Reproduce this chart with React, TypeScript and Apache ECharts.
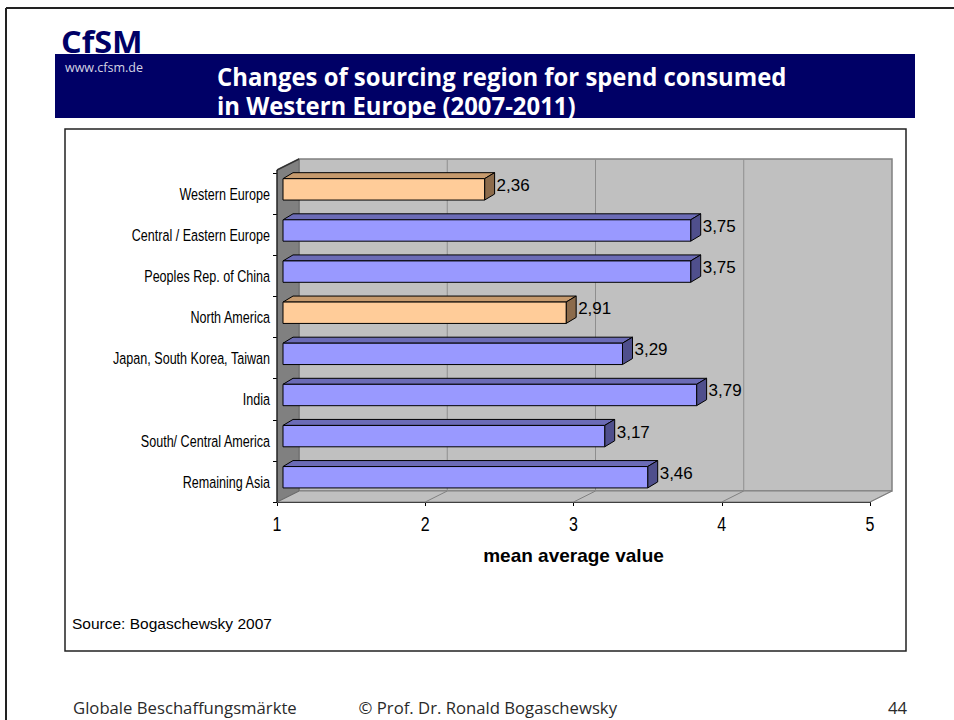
import React, { useEffect, useRef } from "react";
import * as echarts from "echarts";

const regions = [
  "Western Europe",
  "Central / Eastern Europe",
  "Peoples Rep. of China",
  "North America",
  "Japan, South Korea, Taiwan",
  "India",
  "South/ Central America",
  "Remaining Asia",
];
const meanValues = [2.36, 3.75, 3.75, 2.91, 3.29, 3.79, 3.17, 3.46];
const orangeRegions = ["Western Europe", "North America"];
const xTicks = [1, 2, 3, 4, 5];
const xMin = 1;
const xMax = 5;

const ARIAL = "'Liberation Sans', Arial, sans-serif";
const SLIDE = "'Open Sans', 'Noto Sans', sans-serif";

// 3D depth of the plot box
const DX = 22;
const DY = -11;
const EXT = 3;

export default function App() {
  const ref = useRef<HTMLDivElement>(null);
  useEffect(() => {
    if (!ref.current) return;
    const chart = echarts.init(ref.current, undefined, { renderer: "svg" });
    const option: any = {
      animation: false,
      backgroundColor: "#ffffff",
      grid: { left: 277, top: 173, width: 593, height: 329, containLabel: false },
      xAxis: {
        type: "value",
        min: xMin,
        max: xMax,
        interval: 1,
        axisLine: { show: true, lineStyle: { color: "#000", width: 1 } },
        axisTick: { show: true, length: 4, lineStyle: { color: "#000" } },
        splitLine: { show: false },
        axisLabel: { show: false },
        name: "mean average value",
        nameLocation: "middle",
        nameGap: 44,
        nameTextStyle: { color: "#000", fontFamily: ARIAL, fontWeight: "bold", fontSize: 19 },
      },
      yAxis: {
        type: "category",
        inverse: true,
        data: regions,
        axisLine: { show: true, lineStyle: { color: "#000", width: 1 } },
        axisTick: { show: true, length: 4, lineStyle: { color: "#000" } },
        axisLabel: { show: false },
        splitLine: { show: false },
      },
      graphic: [
        { type: "line", shape: { x1: 6, y1: 8, x2: 954, y2: 8 }, style: { stroke: "#222", lineWidth: 2 } },
        { type: "line", shape: { x1: 6, y1: 8, x2: 6, y2: 720 }, style: { stroke: "#222", lineWidth: 2 } },
        {
          type: "text", x: 61, y: 41, scaleX: 1.08,
          style: { text: "CfSM", fill: "#000066", font: `bold 30px ${SLIDE}`, textVerticalAlign: "middle" },
        },
        { type: "rect", shape: { x: 55, y: 54, width: 860, height: 64 }, style: { fill: "#000066" } },
        {
          type: "text", x: 65, y: 67,
          style: { text: "www.cfsm.de", fill: "#d4d4e4", font: `12.5px ${SLIDE}`, textVerticalAlign: "middle" },
        },
        {
          type: "text", x: 217, y: 76, scaleX: 0.955,
          style: { text: "Changes of sourcing region for spend consumed", fill: "#fff", font: `bold 25px ${SLIDE}`, textVerticalAlign: "middle" },
        },
        {
          type: "text", x: 217, y: 105, scaleX: 0.955,
          style: { text: "in Western Europe (2007-2011)", fill: "#fff", font: `bold 25px ${SLIDE}`, textVerticalAlign: "middle" },
        },
        {
          type: "rect", z: -10, shape: { x: 65, y: 129, width: 841, height: 522 },
          style: { fill: "#fff", stroke: "#222", lineWidth: 1.5 },
        },
        {
          type: "text", x: 72, y: 623,
          style: { text: "Source: Bogaschewsky 2007", fill: "#000", font: `15.5px ${ARIAL}`, textVerticalAlign: "middle" },
        },
        {
          type: "text", x: 73, y: 707,
          style: { text: "Globale Beschaffungsmärkte", fill: "#2a2a2a", font: `16.7px ${SLIDE}`, textVerticalAlign: "middle" },
        },
        {
          type: "text", x: 617, y: 707,
          style: { text: "© Prof. Dr. Ronald Bogaschewsky", fill: "#2a2a2a", font: `16.7px ${SLIDE}`, textVerticalAlign: "middle", textAlign: "right" },
        },
        {
          type: "text", x: 907, y: 707,
          style: { text: "44", fill: "#2a2a2a", font: `16.7px ${SLIDE}`, textVerticalAlign: "middle", textAlign: "right" },
        },
      ],
      series: [
        {
          type: "custom",
          name: "walls",
          z: 1,
          silent: true,
          data: xTicks.map((t) => [t, 0]),
          encode: { x: 0, y: 1 },
          renderItem: (params: any, api: any) => {
            const cs = params.coordSys;
            const gx = cs.x, gy = cs.y, gw = cs.width, gh = cs.height;
            const t = api.value(0);
            const px = api.coord([t, 0])[0];
            const children: any[] = [];
            if (params.dataIndex === 0) {
              children.push({
                type: "rect",
                shape: { x: gx + DX, y: gy - EXT + DY, width: gw, height: gh + EXT },
                style: { fill: "#c0c0c0", stroke: "#808080", lineWidth: 1.5 },
              });
              children.push({
                type: "polygon",
                shape: { points: [[gx, gy + gh], [gx + DX, gy + gh + DY], [gx + gw + DX, gy + gh + DY], [gx + gw, gy + gh]] },
                style: { fill: "#c0c0c0", stroke: "#808080", lineWidth: 1 },
              });
              children.push({
                type: "polygon",
                shape: { points: [[gx, gy - EXT], [gx + DX, gy - EXT + DY], [gx + DX, gy + gh + DY], [gx, gy + gh]] },
                style: { fill: "#808080", stroke: "#6a6a6a", lineWidth: 1 },
              });
              children.push({
                type: "line",
                shape: { x1: gx, y1: gy - EXT, x2: gx + DX, y2: gy - EXT + DY },
                style: { stroke: "#333", lineWidth: 1.5 },
              });
              children.push({
                type: "line",
                shape: { x1: gx, y1: gy - EXT, x2: gx, y2: gy + gh },
                style: { stroke: "#000", lineWidth: 1 },
              });
            }
            if (t > xMin && t < xMax) {
              children.push({
                type: "line",
                shape: { x1: px + DX, y1: gy - EXT + DY, x2: px + DX, y2: gy + gh + DY },
                style: { stroke: "#8e8e8e", lineWidth: 1 },
              });
            }
            if (t > xMin) {
              children.push({
                type: "line",
                shape: { x1: px, y1: gy + gh, x2: px + DX, y2: gy + gh + DY },
                style: { stroke: "#808080", lineWidth: 1 },
              });
            }
            // x tick label (narrow)
            children.push({
              type: "text",
              x: px,
              y: gy + gh + 22,
              scaleX: 0.8,
              style: { text: String(t), fill: "#000", font: `20px ${ARIAL}`, textAlign: "center", textVerticalAlign: "middle" },
            });
            return { type: "group", children };
          },
        },
        {
          type: "custom",
          name: "mean average value",
          z: 3,
          data: meanValues.map((v, i) => [v, i]),
          encode: { x: 0, y: 1 },
          renderItem: (params: any, api: any) => {
            const v = api.value(0);
            const idx = api.value(1);
            const start = api.coord([xMin, idx]);
            const end = api.coord([v, idx]);
            const band = api.size([0, 1])[1];
            const cy = start[1];
            const x0 = start[0] + 6;
            const x1 = end[0] + 6;
            const y0 = cy - 0.362 * band;
            const y1 = cy + 0.158 * band;
            const ddx = 10, ddy = -6;
            const orange = orangeRegions.includes(regions[idx]);
            const front = orange ? "#ffcc99" : "#9999ff";
            const top = orange ? "#c69a6d" : "#6b6bb6";
            const side = orange ? "#8c6b4b" : "#4f4f8c";
            const lbl = v.toFixed(2).replace(".", ",");
            return {
              type: "group",
              children: [
                {
                  type: "polygon",
                  shape: { points: [[x0, y0], [x0 + ddx, y0 + ddy], [x1 + ddx, y0 + ddy], [x1, y0]] },
                  style: { fill: top, stroke: "#000", lineWidth: 1 },
                },
                {
                  type: "polygon",
                  shape: { points: [[x1, y0], [x1 + ddx, y0 + ddy], [x1 + ddx, y1 + ddy], [x1, y1]] },
                  style: { fill: side, stroke: "#000", lineWidth: 1 },
                },
                {
                  type: "rect",
                  shape: { x: x0, y: y0, width: x1 - x0, height: y1 - y0 },
                  style: { fill: front, stroke: "#000", lineWidth: 1 },
                },
                {
                  type: "text",
                  x: x1 + ddx + 2,
                  y: cy - 0.2 * band,
                  style: { text: lbl, fill: "#000", font: `17px ${ARIAL}`, textVerticalAlign: "middle", textAlign: "left" },
                },
                {
                  type: "text",
                  x: start[0] - 7,
                  y: cy,
                  scaleX: 0.74,
                  style: { text: regions[idx], fill: "#000", font: `17px ${ARIAL}`, textVerticalAlign: "middle", textAlign: "right" },
                },
              ],
            };
          },
        },
      ],
    };
    chart.setOption(option);
    return () => chart.dispose();
  }, []);
  return <div ref={ref} style={{ position: "fixed", left: 0, top: 0, width: 954, height: 720 }} />;
}
